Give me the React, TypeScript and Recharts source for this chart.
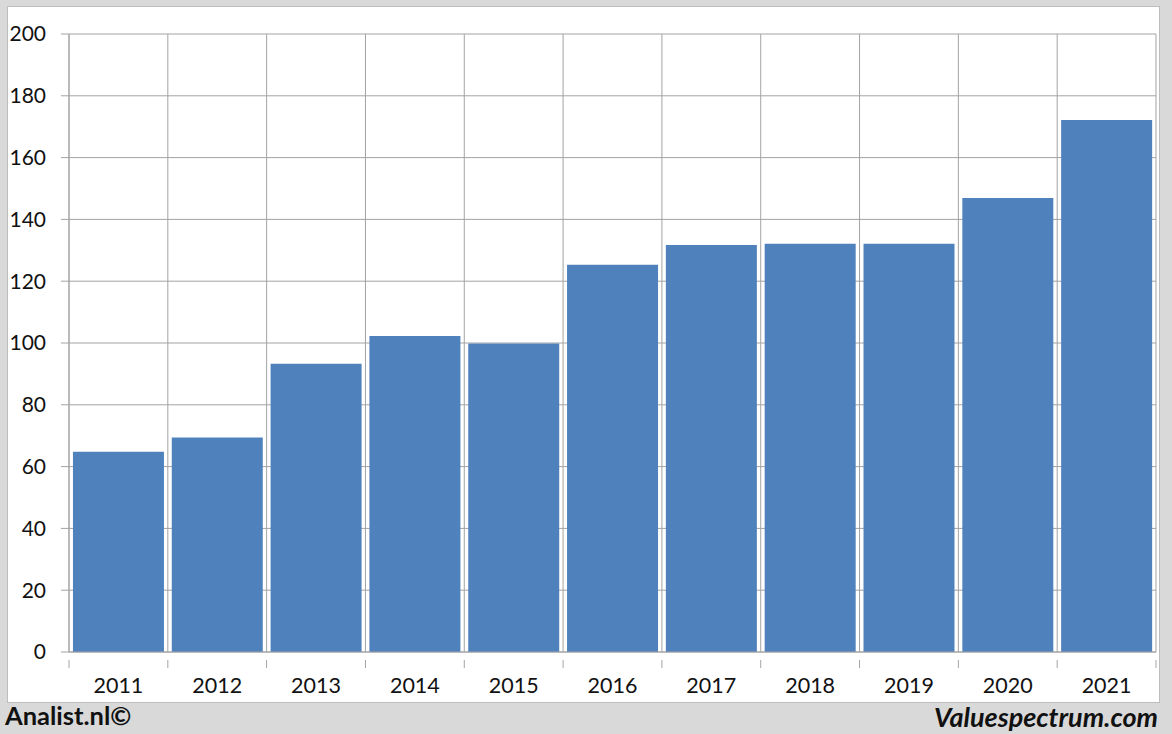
import { BarChart, Bar, XAxis, YAxis, CartesianGrid } from 'recharts';

const years = ['2011', '2012', '2013', '2014', '2015', '2016', '2017', '2018', '2019', '2020', '2021'];
const values = [64.8, 69.4, 93.3, 102.3, 99.8, 125.3, 131.7, 132.1, 132.1, 146.9, 172.2];
const yTicks = [0, 20, 40, 60, 80, 100, 120, 140, 160, 180, 200];

const data = years.map((year, i) => ({ year, value: values[i] }));

const W = 1172;
const H = 734;
const M = { top: 34, right: 16, bottom: 42, left: 0 };
const Y_W = 69;
const X_H = 40;
const GRID = '#a3a3a3';
const FONT = 'Lato, "Open Sans", sans-serif';

const plotW = W - M.right - M.left - Y_W;
const band = plotW / years.length;

function YearTick({ x, y, payload, index }: any) {
  const left = x - band / 2;
  const isLast = index === years.length - 1;
  return (
    <g>
      <line x1={left} x2={left} y1={y} y2={y + 8} stroke={GRID} />
      {isLast && <line x1={left + band} x2={left + band} y1={y} y2={y + 8} stroke={GRID} />}
      <text x={x} y={y + 33} textAnchor="middle" fontSize={21.5} fill="#111" fontFamily={FONT}>
        {payload.value}
      </text>
    </g>
  );
}

export default function App() {
  return (
    <div style={{ position: 'absolute', left: 0, top: 0, width: W, height: H, background: '#d9d9d9', fontFamily: FONT }}>
      <div style={{ position: 'absolute', left: 7, top: 6, width: 1151, height: 695, background: '#fff', border: '1px solid #bdbdbd' }} />
      <div style={{ position: 'absolute', left: 0, top: 0 }}>
        <BarChart width={W} height={H} data={data} margin={M} barCategoryGap="4%">
          <CartesianGrid
            stroke={GRID}
            verticalCoordinatesGenerator={({ offset }: any) =>
              years.map((_, i) => offset.left + (i * offset.width) / years.length).concat(offset.left + offset.width)
            }
          />
          <XAxis
            dataKey="year"
            height={X_H}
            axisLine={{ stroke: GRID }}
            tickLine={false}
            tick={<YearTick />}
            interval={0}
          />
          <YAxis
            width={Y_W}
            domain={[0, 200]}
            ticks={yTicks}
            axisLine={{ stroke: GRID }}
            tickLine={{ stroke: GRID }}
            tickSize={8}
            tickMargin={15}
            tick={{ fontSize: 21, fill: '#111', fontFamily: FONT }}
          />
          <Bar dataKey="value" fill="#4f81bd" isAnimationActive={false} />
        </BarChart>
      </div>
      <div style={{ position: 'absolute', left: 5, top: 700, fontSize: 25.5, fontWeight: 700, color: '#111' }}>Analist.nl©</div>
      <div style={{ position: 'absolute', right: 14, top: 700, fontSize: 27, fontWeight: 700, fontStyle: 'italic', color: '#111' }}>Valuespectrum.com</div>
    </div>
  );
}
